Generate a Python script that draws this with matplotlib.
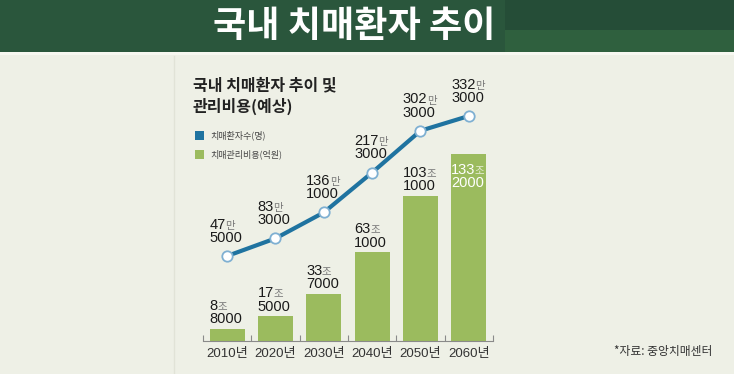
import matplotlib
matplotlib.use('Agg')
import matplotlib.pyplot as plt
from matplotlib.patches import Rectangle
from matplotlib.lines import Line2D
from matplotlib import font_manager as fm

# data
years = ['2010년', '2020년', '2030년', '2040년', '2050년', '2060년']
cost = [88000, 175000, 337000, 631000, 1031000, 1332000]         # 억원
patients = [475000, 833000, 1361000, 2173000, 3023000, 3323000]  # 명

installed = {f.name for f in fm.fontManager.ttflist}
NUM = 'Liberation Sans Narrow' if 'Liberation Sans Narrow' in installed else 'Liberation Sans'
KR = 'Noto Sans CJK KR'

W, H = 734, 374
BG = '#eef0e6'
BAR = '#9bbb5e'
LINE = '#1f73a0'

fig = plt.figure(figsize=(W / 100, H / 100), dpi=100)
fig.patch.set_facecolor(BG)


def fx(x):
    return x / W


def fy(y):
    return 1 - y / H


def rect(x0, y0, x1, y1, color):
    fig.add_artist(Rectangle((fx(x0), fy(y1)), fx(x1) - fx(x0), fy(y0) - fy(y1),
                             transform=fig.transFigure, color=color, lw=0))


# header band
rect(0, 0, W, 52, '#2a563c')
rect(505, 0, W, 30, '#254d37')
rect(505, 30, W, 52, '#2f603e')
rect(0, 52, W, 55, '#f7f8f1')
fig.text(fx(354), fy(26), '국내 치매환자 추이', ha='center', va='center',
         color='white', fontsize=26, fontweight='bold', family=KR)

# faint panel edge
fig.add_artist(Line2D([fx(174), fx(174)], [0, fy(56)], transform=fig.transFigure,
                      color='#e1e3d7', lw=1))

# chart title + legend
fig.text(fx(193), fy(85), '국내 치매환자 추이 및', va='center', fontsize=11.5,
         fontweight='bold', family=KR, color='#222222')
fig.text(fx(193), fy(106), '관리비용(예상)', va='center', fontsize=11.5,
         fontweight='bold', family=KR, color='#222222')
rect(195, 131, 204, 140, LINE)
rect(195, 150, 204, 159, BAR)
fig.text(fx(210), fy(135.5), '치매환자수(명)', va='center', fontsize=6.5,
         family=KR, color='#444444')
fig.text(fx(210), fy(154.5), '치매관리비용(억원)', va='center', fontsize=6.5,
         family=KR, color='#444444')

# axes
ax = fig.add_axes([fx(203), 33 / H, 290 / W, 241 / H])
ax.set_facecolor('none')
x = list(range(len(years)))
ax.bar(x, cost, width=0.72, color=BAR, zorder=2)
ax.set_xlim(-0.5, 5.5)
ax.set_ylim(0, 1715000)
for s in ['top', 'right', 'left']:
    ax.spines[s].set_visible(False)
ax.spines['bottom'].set_color('#8a8a8a')
ax.spines['bottom'].set_linewidth(0.8)
ax.set_yticks([])
ax.set_xticks(x)
ax.set_xticklabels(years, fontsize=9.5, color='#333333', family=[NUM, KR])
ax.tick_params(axis='x', which='major', length=0, pad=5)
ax.set_xticks([i - 0.5 for i in range(len(years) + 1)], minor=True)
ax.tick_params(axis='x', which='minor', direction='in', length=4,
               color='#8a8a8a', width=0.8)

ax2 = ax.twinx()
ax2.set_ylim(-1254000, 3648000)
for s in ax2.spines.values():
    s.set_visible(False)
ax2.set_yticks([])
ax2.plot(x, patients, color=LINE, lw=3, marker='o', ms=7.5, mfc='white',
         mec='#7fb0d2', mew=1.3, zorder=3, solid_capstyle='round')


def label(a, xx, yy, big, small, unit, dy, color='#1a1a1a', ucolor='#777777', inside=False):
    va = 'top' if inside else 'bottom'
    off = -16 if inside else dy
    low = a.annotate(small, (xx, yy), xytext=(-1, off), textcoords='offset points',
                     ha='center', va=va, fontsize=10.5, family=NUM, color=color, zorder=5)
    up = a.annotate(big, xy=(0, 1), xycoords=low, xytext=(0, -0.5), textcoords='offset points',
                    ha='left', va='bottom', fontsize=10.5, family=NUM, color=color, zorder=5)
    a.annotate(unit, xy=(1, 0), xycoords=up, xytext=(-0.3, 0.5), textcoords='offset points',
               ha='left', va='bottom', fontsize=7.5, family=KR, color=ucolor, zorder=5)


for i, v in enumerate(cost):
    jo, rest = divmod(v, 10000)
    if i == len(cost) - 1:
        label(ax, i, v, str(jo), str(rest), '조', 0, color='white', ucolor='#e8efd8', inside=True)
    else:
        label(ax, i, v, str(jo), str(rest), '조', 2)

for i, v in enumerate(patients):
    man, rest = divmod(v, 10000)
    label(ax2, i, v, str(man), str(rest), '만', 8)

fig.text(fx(712), fy(352), '*자료: 중앙치매센터', ha='right', va='center', fontsize=8.5,
         family=KR, color='#333333')

fig.savefig('out.png', dpi=100, facecolor=fig.get_facecolor())
